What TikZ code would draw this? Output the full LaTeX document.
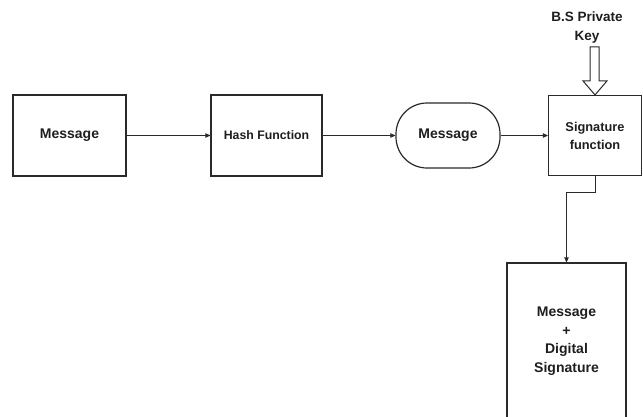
\documentclass[tikz,border=0pt]{standalone}
\usepackage{fontspec}
\setmainfont{Liberation Sans}
\usetikzlibrary{arrows.meta,calc}
\definecolor{ink}{HTML}{2A2A2A}
\definecolor{txt}{HTML}{1E1E1E}
\begin{document}
\begin{tikzpicture}[x=1pt,y=-1pt,
  blk/.style={draw=ink,line width=1.2pt,inner sep=0pt,align=center,
    font=\bfseries\fontsize{14}{18.5}\selectfont,text=txt},
  flow/.style={draw=ink,line width=0.9pt,-{Triangle[length=5pt,width=4.5pt]}}]
\useasboundingbox (0,0) rectangle (643,416);
\clip (0,0) rectangle (643,416);

% processing chain
\node[blk,minimum width=113pt,minimum height=81pt] (msg) at (69.5,135.5) {Message};
\node[blk,minimum width=111pt,minimum height=81pt,
  font=\bfseries\fontsize{12.3}{16}\selectfont] (hash) at (266.5,135.5) {Hash Function};
\node[blk,minimum width=104pt,minimum height=65pt,rounded corners=31pt] (digest) at (448,135.5) {Message};
\node[blk,minimum width=93pt,minimum height=80pt,
  font=\bfseries\fontsize{12.8}{18}\selectfont] (sig) at (595,135.5) {Signature\\function};

% signed output
\node[blk,minimum width=119pt,minimum height=156pt] (out) at (566.5,341) {Message\\+\\Digital\\Signature};

% private key input
\node[inner sep=0pt,align=center,text=txt,font=\bfseries\fontsize{13.5}{19}\selectfont] (key) at (587,27.5) {B.S Private\\Key};
\draw[ink,line width=1pt,fill=white]
  ($(sig.north)+(-5,-48)$) -- ($(sig.north)+(-5,-14)$) -- ($(sig.north)+(-12,-14)$)
  -- (sig.north) -- ($(sig.north)+(12,-14)$) -- ($(sig.north)+(4,-14)$)
  -- ($(sig.north)+(4,-48)$) -- cycle;

% connectors
\draw[flow] (msg.east) -- (hash.west);
\draw[flow] (hash.east) -- (digest.west);
\draw[flow] (digest.east) -- (sig.west);
\draw[flow] (sig.south) -- ++(0,16) -| (out.north);
\end{tikzpicture}
\end{document}
